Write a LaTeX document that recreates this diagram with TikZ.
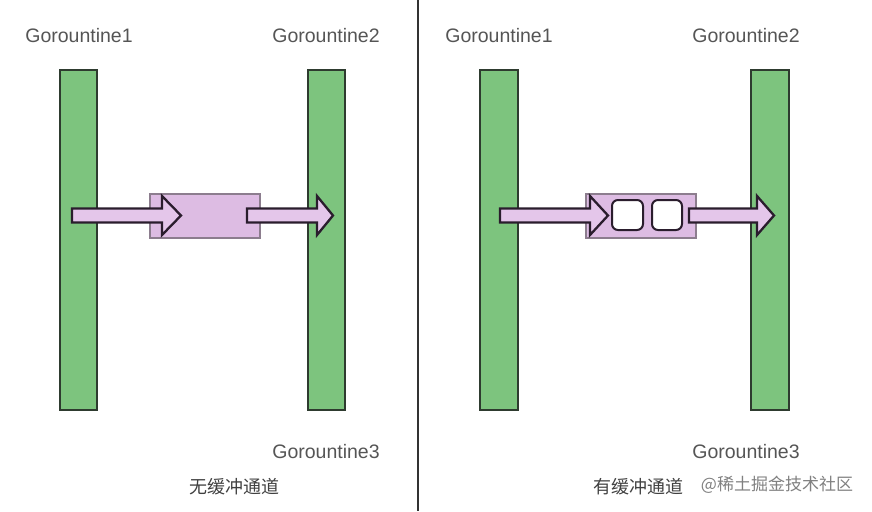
\documentclass[tikz,border=0pt]{standalone}
\usepackage{fontspec}
\setmainfont{Liberation Sans}
\newfontfamily\cjk{Noto Sans CJK SC}
\usepackage{xcolor}

\definecolor{barGreen}{HTML}{7DC47E}
\definecolor{barEdge}{HTML}{2E3B2F}
\definecolor{chanPink}{HTML}{DDBCE3}
\definecolor{chanEdge}{HTML}{8C7D8E}
\definecolor{arrowPink}{HTML}{E4C6EA}
\definecolor{arrowEdge}{HTML}{2A1D2D}
\definecolor{labelGray}{HTML}{555555}

\tikzset{
  bar/.style={fill=barGreen, draw=barEdge, line width=2pt},
  chanbox/.style={fill=chanPink, draw=chanEdge, line width=1.3pt},
  arrowbody/.style={fill=arrowPink, draw=arrowEdge, line width=2.3pt, line join=miter},
  slot/.style={fill=white, draw=arrowEdge, line width=2pt, rounded corners=6pt},
  lbl/.style={text=labelGray, font=\fontsize{19.5}{22}\selectfont, inner sep=0pt},
  caption/.style={text=black!75, font=\cjk\fontsize{18}{22}\selectfont, inner sep=0pt}
}

% block arrow: start x, head base x, tip x
\newcommand{\blockarrow}[3]{%
  \filldraw[arrowbody] (#1,208.5) -- (#2,208.5) -- (#2,196) -- (#3,215.5)
    -- (#2,235) -- (#2,222.5) -- (#1,222.5) -- cycle;}

\begin{document}
\begin{tikzpicture}[x=1pt,y=-1pt]
    \useasboundingbox (0,0) rectangle (872,511);

    % divider
    \draw[line width=2.5pt, black!80] (418,0) -- (418,511);

    % left: unbuffered channel
    \draw[bar] (60,70) rectangle (97,410);
    \draw[bar] (308,70) rectangle (345,410);
    \draw[chanbox] (150,194) rectangle (260,238);
    \blockarrow{72}{162}{181}
    \blockarrow{247}{317}{333}
    \node[lbl] (lg1) at (79,36) {Gorountine1};
    \node[lbl] (lg2) at (326,36) {Gorountine2};
    \node[lbl] (lg3) at (326,452) {Gorountine3};
    \node[caption] (lcap) at (234,487) {无缓冲通道};

    % right: buffered channel
    \draw[bar] (480,70) rectangle (518,410);
    \draw[bar] (751,70) rectangle (789,410);
    \draw[chanbox] (586,194) rectangle (696,238);
    \blockarrow{500}{590}{608}
    \draw[slot] (612,200) rectangle (643,230);
    \draw[slot] (652,200) rectangle (682,230);
    \blockarrow{689}{757}{774}
    \node[lbl] (rg1) at (499,36) {Gorountine1};
    \node[lbl] (rg2) at (746,36) {Gorountine2};
    \node[lbl] (rg3) at (746,452) {Gorountine3};
    \node[caption] (rcap) at (638,487) {有缓冲通道};
    \node[caption, text=black!50, font=\cjk\fontsize{17}{20}\selectfont] (mark) at (777,485) {@稀土掘金技术社区};
\end{tikzpicture}
\end{document}
